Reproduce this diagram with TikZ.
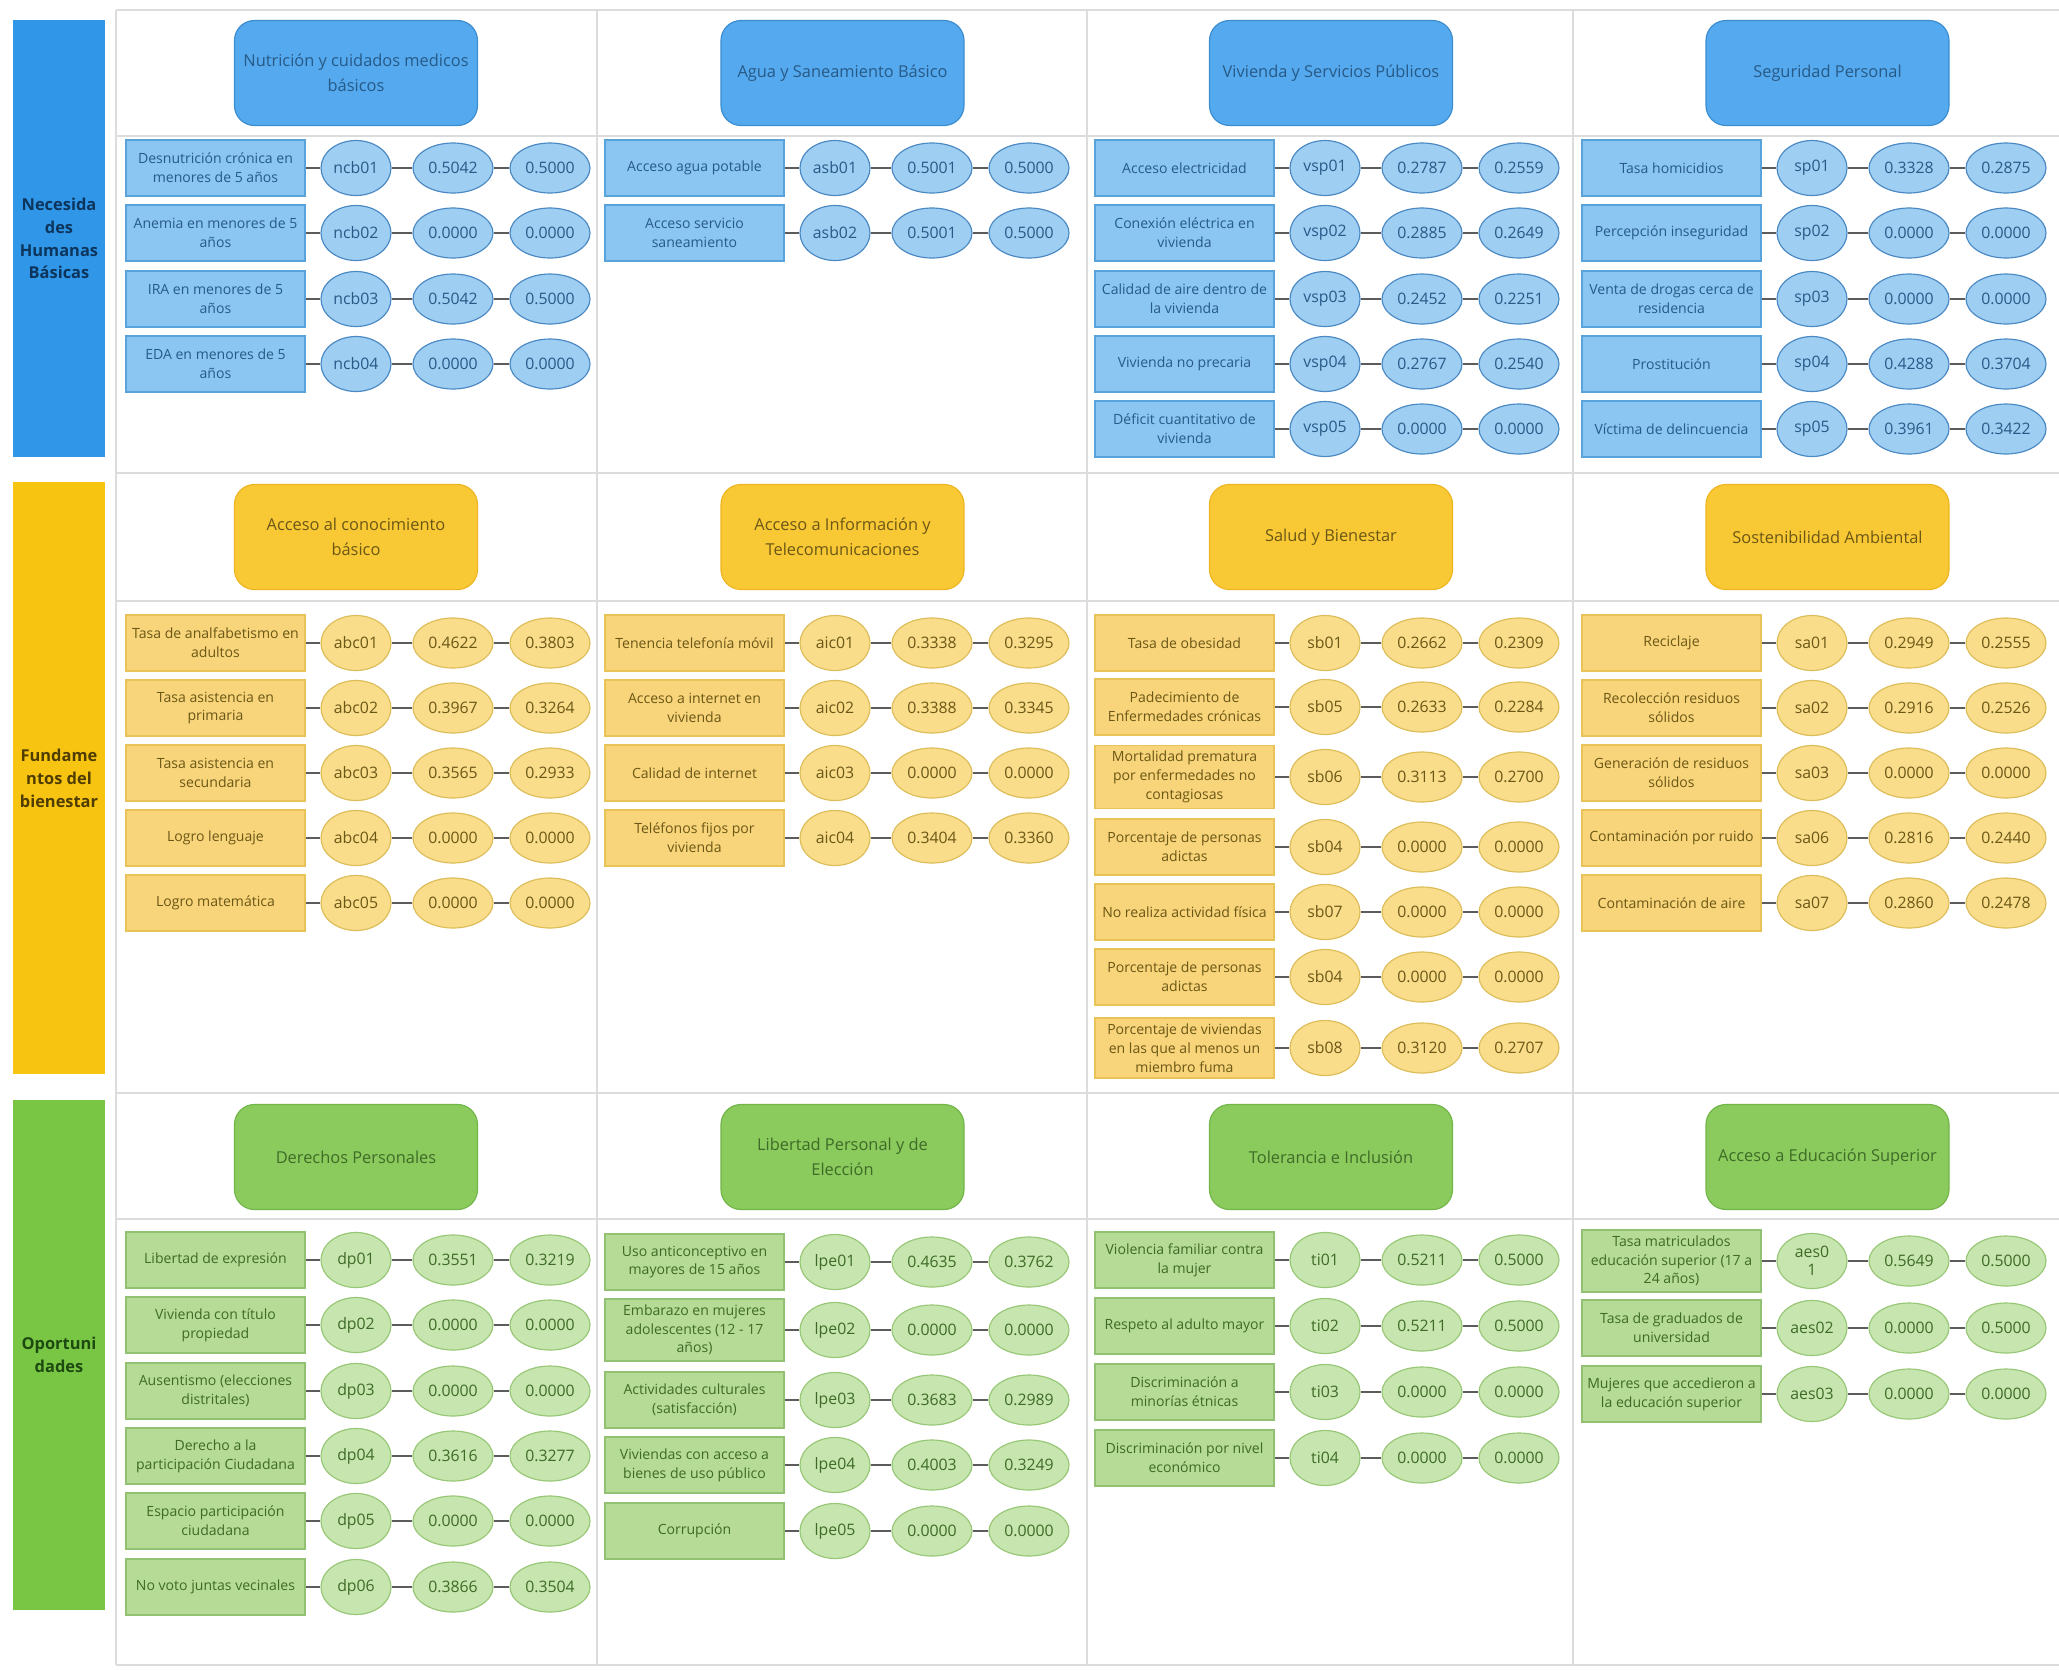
\documentclass[tikz,border=0pt]{standalone}
\usepackage{fontspec}
\setmainfont{Open Sans}
\usepackage{tikz}
\usetikzlibrary{shapes.geometric}

\definecolor{gridgray}{HTML}{DCDCDC}
\definecolor{linkgray}{HTML}{5C5C5C}
\definecolor{nhbBar}{HTML}{2F96E8}
\definecolor{nhbBarTxt}{HTML}{0D355C}
\definecolor{nhbHead}{HTML}{55A9EE}
\definecolor{nhbHeadLine}{HTML}{3C8DD0}
\definecolor{nhbBox}{HTML}{8AC6F1}
\definecolor{nhbBoxLine}{HTML}{58A3DB}
\definecolor{nhbOval}{HTML}{9FCEF3}
\definecolor{nhbOvalLine}{HTML}{4B89C2}
\definecolor{nhbTxt}{HTML}{275A87}
\definecolor{fdbBar}{HTML}{F8C412}
\definecolor{fdbBarTxt}{HTML}{4F3D00}
\definecolor{fdbHead}{HTML}{F9C935}
\definecolor{fdbHeadLine}{HTML}{EDB520}
\definecolor{fdbBox}{HTML}{F8D57A}
\definecolor{fdbBoxLine}{HTML}{E9C258}
\definecolor{fdbOval}{HTML}{F9DD8A}
\definecolor{fdbOvalLine}{HTML}{DDBD5A}
\definecolor{fdbTxt}{HTML}{6B5716}
\definecolor{opoBar}{HTML}{79C644}
\definecolor{opoBarTxt}{HTML}{1D4A10}
\definecolor{opoHead}{HTML}{8BCB5D}
\definecolor{opoHeadLine}{HTML}{72B548}
\definecolor{opoBox}{HTML}{B5DB96}
\definecolor{opoBoxLine}{HTML}{92C271}
\definecolor{opoOval}{HTML}{C7E5AE}
\definecolor{opoOvalLine}{HTML}{98C777}
\definecolor{opoTxt}{HTML}{3E6B27}

\begin{document}
\begin{tikzpicture}[x=0.03cm,y=-0.03cm,
    cellline/.style={draw=gridgray,line width=1.2pt},
    link/.style={draw=linkgray,line width=1.1pt},
    pillar/.style={rectangle,minimum width=2.76cm,inner sep=0pt,align=center,
      font=\fontsize{14}{19.5}\selectfont\bfseries},
    dimhead/.style={rectangle,rounded corners=0.6cm,minimum width=7.29cm,
      minimum height=3.15cm,align=center,line width=1pt,
      font=\fontsize{14}{21}\selectfont},
    ind/.style={rectangle,minimum width=5.37cm,minimum height=1.68cm,
      inner xsep=1pt,inner ysep=5pt,align=center,line width=1pt,
      font=\fontsize{12}{16}\selectfont},
    oval/.style={ellipse,inner sep=0pt,align=center,line width=1pt,
      font=\fontsize{13.5}{15}\selectfont},
    idoval/.style={oval,minimum width=2.1cm,minimum height=1.65cm},
    valoval/.style={oval,minimum width=2.4cm,minimum height=1.5cm},
    nhbhead/.style={dimhead,fill=nhbHead,draw=nhbHeadLine,text=nhbTxt},
    nhbbox/.style={ind,fill=nhbBox,draw=nhbBoxLine,text=nhbTxt},
    nhbid/.style={idoval,fill=nhbOval,draw=nhbOvalLine,text=nhbTxt},
    nhbval/.style={valoval,fill=nhbOval,draw=nhbOvalLine,text=nhbTxt},
    fdbhead/.style={dimhead,fill=fdbHead,draw=fdbHeadLine,text=fdbTxt},
    fdbbox/.style={ind,fill=fdbBox,draw=fdbBoxLine,text=fdbTxt},
    fdbid/.style={idoval,fill=fdbOval,draw=fdbOvalLine,text=fdbTxt},
    fdbval/.style={valoval,fill=fdbOval,draw=fdbOvalLine,text=fdbTxt},
    opohead/.style={dimhead,fill=opoHead,draw=opoHeadLine,text=opoTxt},
    opobox/.style={ind,fill=opoBox,draw=opoBoxLine,text=opoTxt},
    opoid/.style={idoval,fill=opoOval,draw=opoOvalLine,text=opoTxt},
    opoval/.style={valoval,fill=opoOval,draw=opoOvalLine,text=opoTxt}]
    \useasboundingbox (0,0) rectangle (2059,1669);
    \fill[white] (0,0) rectangle (2059,1669);

    \foreach \gy in {10,136,473,601,1093,1219,1665}
        \draw[cellline] (116,\gy) -- (2059,\gy);
    \foreach \gx in {116,597,1087,1573}
        \draw[cellline] (\gx,10) -- (\gx,1665);

    \node[pillar,fill=nhbBar,text=nhbBarTxt,minimum height=13.11cm] (nhb) at (59,238.5)
        {Necesida\\des\\Humanas\\Básicas};
    \node[pillar,fill=fdbBar,text=fdbBarTxt,minimum height=17.76cm] (fdb) at (59,778)
        {Fundame\\ntos del\\bienestar};
    \node[pillar,fill=opoBar,text=opoBarTxt,minimum height=15.3cm] (opo) at (59,1355)
        {Oportuni\\dades};

    \node[nhbhead] (ncb) at (356,73) {Nutrición y cuidados medicos\\básicos};
    \node[nhbhead] (asb) at (842.5,73) {Agua y Saneamiento Básico};
    \node[nhbhead] (vsp) at (1331,73) {Vivienda y Servicios Públicos};
    \node[nhbhead] (sp) at (1827.5,73) {Seguridad Personal};
    \node[fdbhead] (abc) at (356,537) {Acceso al conocimiento\\básico};
    \node[fdbhead] (aic) at (842.5,537) {Acceso a Información y\\Telecomunicaciones};
    \node[fdbhead] (sb) at (1331,537) {Salud y Bienestar};
    \node[fdbhead] (sa) at (1827.5,537) {Sostenibilidad Ambiental};
    \node[opohead] (dp) at (356,1157) {Derechos Personales};
    \node[opohead] (lpe) at (842.5,1157) {Libertad Personal y de\\Elección};
    \node[opohead] (ti) at (1331,1157) {Tolerancia e Inclusión};
    \node[opohead] (aes) at (1827.5,1157) {Acceso a Educación Superior};

    \foreach \bx/\y/\lbl/\cd/\va/\vb [count=\n] in {
        126/168/{Desnutrición crónica en\\menores de 5 años}/ncb01/0.5042/0.5000,
        126/233/{Anemia en menores de 5\\años}/ncb02/0.0000/0.0000,
        126/299/{IRA en menores de 5\\años}/ncb03/0.5042/0.5000,
        126/364/{EDA en menores de 5\\años}/ncb04/0.0000/0.0000,
        605/168/{Acceso agua potable}/asb01/0.5001/0.5000,
        605/233/{Acceso servicio\\saneamiento}/asb02/0.5001/0.5000,
        1095/168/{Acceso electricidad}/vsp01/0.2787/0.2559,
        1095/233/{Conexión eléctrica en\\vivienda}/vsp02/0.2885/0.2649,
        1095/299/{Calidad de aire dentro de\\la vivienda}/vsp03/0.2452/0.2251,
        1095/364/{Vivienda no precaria}/vsp04/0.2767/0.2540,
        1095/429/{Déficit cuantitativo de\\vivienda}/vsp05/0.0000/0.0000,
        1582/168/{Tasa homicidios}/sp01/0.3328/0.2875,
        1582/233/{Percepción inseguridad}/sp02/0.0000/0.0000,
        1582/299/{Venta de drogas cerca de\\residencia}/sp03/0.0000/0.0000,
        1582/364/{Prostitución}/sp04/0.4288/0.3704,
        1582/429/{Víctima de delincuencia}/sp05/0.3961/0.3422}{
        \node[nhbbox] (nhb\n) at (\bx+89.5,\y) {\lbl};
        \node[nhbid] (nhb\n-id) at (\bx+230,\y) {\cd};
        \node[nhbval] (nhb\n-a) at (\bx+327,\y) {\va};
        \node[nhbval] (nhb\n-b) at (\bx+424,\y) {\vb};
        \draw[link] (nhb\n) -- (nhb\n-id) (nhb\n-id) -- (nhb\n-a) (nhb\n-a) -- (nhb\n-b);
    }

    \foreach \bx/\y/\lbl/\cd/\va/\vb [count=\n] in {
        126/643/{Tasa de analfabetismo en\\adultos}/abc01/0.4622/0.3803,
        126/708/{Tasa asistencia en\\primaria}/abc02/0.3967/0.3264,
        126/773/{Tasa asistencia en\\secundaria}/abc03/0.3565/0.2933,
        126/838/{Logro lenguaje}/abc04/0.0000/0.0000,
        126/903/{Logro matemática}/abc05/0.0000/0.0000,
        605/643/{Tenencia telefonía móvil}/aic01/0.3338/0.3295,
        605/708/{Acceso a internet en\\vivienda}/aic02/0.3388/0.3345,
        605/773/{Calidad de internet}/aic03/0.0000/0.0000,
        605/838/{Teléfonos fijos por\\vivienda}/aic04/0.3404/0.3360,
        1095/643/{Tasa de obesidad}/sb01/0.2662/0.2309,
        1095/707/{Padecimiento de\\Enfermedades crónicas}/sb05/0.2633/0.2284,
        1095/777/{Mortalidad prematura\\por enfermedades no\\contagiosas}/sb06/0.3113/0.2700,
        1095/847/{Porcentaje de personas\\adictas}/sb04/0.0000/0.0000,
        1095/912/{No realiza actividad física}/sb07/0.0000/0.0000,
        1095/977/{Porcentaje de personas\\adictas}/sb04/0.0000/0.0000,
        1095/1048/{Porcentaje de viviendas\\en las que al menos un\\miembro fuma}/sb08/0.3120/0.2707,
        1582/643/{Reciclaje}/sa01/0.2949/0.2555,
        1582/708/{Recolección residuos\\sólidos}/sa02/0.2916/0.2526,
        1582/773/{Generación de residuos\\sólidos}/sa03/0.0000/0.0000,
        1582/838/{Contaminación por ruido}/sa06/0.2816/0.2440,
        1582/903/{Contaminación de aire}/sa07/0.2860/0.2478}{
        \node[fdbbox] (fdb\n) at (\bx+89.5,\y) {\lbl};
        \node[fdbid] (fdb\n-id) at (\bx+230,\y) {\cd};
        \node[fdbval] (fdb\n-a) at (\bx+327,\y) {\va};
        \node[fdbval] (fdb\n-b) at (\bx+424,\y) {\vb};
        \draw[link] (fdb\n) -- (fdb\n-id) (fdb\n-id) -- (fdb\n-a) (fdb\n-a) -- (fdb\n-b);
    }

    \foreach \bx/\y/\lbl/\cd/\va/\vb [count=\n] in {
        126/1260/{Libertad de expresión}/dp01/0.3551/0.3219,
        126/1325/{Vivienda con título\\propiedad}/dp02/0.0000/0.0000,
        126/1391/{Ausentismo (elecciones\\distritales)}/dp03/0.0000/0.0000,
        126/1456/{Derecho a la\\participación Ciudadana}/dp04/0.3616/0.3277,
        126/1521/{Espacio participación\\ciudadana}/dp05/0.0000/0.0000,
        126/1587/{No voto juntas vecinales}/dp06/0.3866/0.3504,
        605/1262/{Uso anticonceptivo en\\mayores de 15 años}/lpe01/0.4635/0.3762,
        605/1330/{Embarazo en mujeres\\adolescentes (12 - 17\\años)}/lpe02/0.0000/0.0000,
        605/1400/{Actividades culturales\\(satisfacción)}/lpe03/0.3683/0.2989,
        605/1465/{Viviendas con acceso a\\bienes de uso público}/lpe04/0.4003/0.3249,
        605/1531/{Corrupción}/lpe05/0.0000/0.0000,
        1095/1260/{Violencia familiar contra\\la mujer}/ti01/0.5211/0.5000,
        1095/1326/{Respeto al adulto mayor}/ti02/0.5211/0.5000,
        1095/1392/{Discriminación a\\minorías étnicas}/ti03/0.0000/0.0000,
        1095/1458/{Discriminación por nivel\\económico}/ti04/0.0000/0.0000,
        1582/1261/{Tasa matriculados\\educación superior (17 a\\24 años)}/{aes0\\1}/0.5649/0.5000,
        1582/1328/{Tasa de graduados de\\universidad}/aes02/0.0000/0.5000,
        1582/1394/{Mujeres que accedieron a\\la educación superior}/aes03/0.0000/0.0000}{
        \node[opobox] (opo\n) at (\bx+89.5,\y) {\lbl};
        \node[opoid] (opo\n-id) at (\bx+230,\y) {\cd};
        \node[opoval] (opo\n-a) at (\bx+327,\y) {\va};
        \node[opoval] (opo\n-b) at (\bx+424,\y) {\vb};
        \draw[link] (opo\n) -- (opo\n-id) (opo\n-id) -- (opo\n-a) (opo\n-a) -- (opo\n-b);
    }
\end{tikzpicture}
\end{document}
